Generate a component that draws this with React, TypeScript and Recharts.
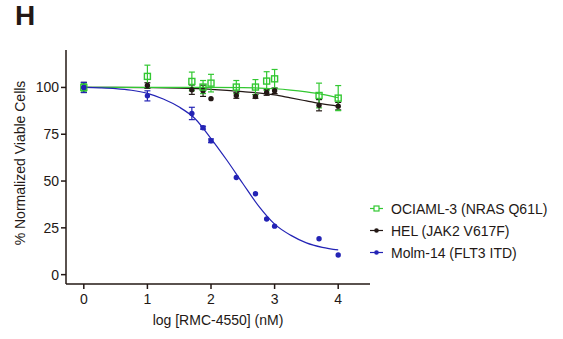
import React from 'react';
import { ComposedChart, Line, Scatter, XAxis, YAxis, ErrorBar } from 'recharts';

const GREEN = '#33c832';
const BLACK = '#231815';
const BLUE = '#2323b5';
const TEXT = '#231815';
const FONT = '"Liberation Sans", Arial, sans-serif';

// log concentrations (nM)
const logDose = [0, 1, 1.699, 1.875, 2, 2.398, 2.699, 2.875, 3, 3.699, 4];

// measured points
const ociY = [100, 105.9, 103.2, 100.2, 102.3, 100.2, 100.2, 103.4, 104.6, 95.7, 94.3];
const ociErr = [2, 6, 5, 3.5, 4.7, 3.5, 4, 5, 5, 6.6, 6.7];
const helY = [100, 101, 98.8, 98.2, 94, 95.7, 95.2, 97.3, 98.2, 90.5, 90];
const helErr = [2.7, 1.5, 2.5, 3, 0, 1.5, 1, 1.5, 1.5, 3, 2];
const molmY = [100, 95.5, 86.1, 78.5, 71.5, 51.9, 43.2, 29.7, 25.9, 19.2, 10.5];
const molmErr = [2.7, 2.7, 3.3, 0.8, 1, 0, 0, 0, 0, 0, 0];

// fitted curves
const ociCurveX = [0, 0.5, 1, 1.5, 2, 2.5, 3, 3.25, 3.5, 3.75, 4];
const ociCurveY = [100, 100, 100, 100, 100, 99.9, 99.3, 98.6, 97.6, 96.3, 94.5];
const helCurveX = [0, 0.5, 1, 1.5, 2, 2.5, 3, 3.25, 3.5, 3.75, 4];
const helCurveY = [100, 100, 99.9, 99.6, 99, 97.8, 96, 94.4, 92.8, 91.2, 90];
const molmCurveX = [0, 0.25, 0.5, 0.75, 1, 1.25, 1.5, 1.75, 2, 2.25, 2.5, 2.75, 3, 3.25, 3.5, 3.75, 4];
const molmCurveY = [100, 99.8, 99.4, 98.5, 96.8, 93.8, 89.5, 83.3, 72.7, 61.1, 48.7, 36.6, 27, 21.1, 17, 14.6, 13.2];

const xTicks = [0, 1, 2, 3, 4];
const yTicks = [0, 25, 50, 75, 100];

const seriesNames = ['OCIAML-3 (NRAS Q61L)', 'HEL (JAK2 V617F)', 'Molm-14 (FLT3 ITD)'];

const pts = (ys: number[], errs: number[]) => logDose.map((x, i) => ({ x, y: ys[i], err: errs[i] }));
const curve = (xs: number[], ys: number[]) => xs.map((x, i) => ({ x, y: ys[i] }));

const ociPts = pts(ociY, ociErr);
const helPts = pts(helY, helErr);
const molmPts = pts(molmY, molmErr);

const Square = (props: any) => {
  const { cx, cy } = props;
  if (cx == null || cy == null) return null;
  return <rect x={cx - 3} y={cy - 3} width={6} height={6} fill="none" stroke={GREEN} strokeWidth={1.4} />;
};
const Dot = (color: string) => (props: any) => {
  const { cx, cy } = props;
  if (cx == null || cy == null) return null;
  return <circle cx={cx} cy={cy} r={2.7} fill={color} stroke="none" />;
};

export default function App() {
  const tickStyle = { fontSize: 14, fill: TEXT, fontFamily: FONT };
  const legendRows = [
    { name: seriesNames[0], color: GREEN, kind: 'square' },
    { name: seriesNames[1], color: BLACK, kind: 'dot' },
    { name: seriesNames[2], color: BLUE, kind: 'dot' },
  ];
  return (
    <div style={{ position: 'absolute', left: 0, top: 0, width: 563, height: 339, background: '#fff', fontFamily: FONT }}>
      <ComposedChart width={563} height={339} margin={{ top: 50, right: 193, bottom: 25, left: 0 }}>
        <XAxis
          type="number"
          dataKey="x"
          domain={[-0.28, 4.5]}
          allowDataOverflow
          ticks={xTicks}
          tickSize={5}
          tickMargin={5}
          height={30}
          stroke={BLACK}
          strokeWidth={1.5}
          tick={tickStyle}
          tickLine={{ stroke: BLACK, strokeWidth: 1.5 }}
        />
        <YAxis
          type="number"
          dataKey="y"
          domain={[-5, 120]}
          allowDataOverflow
          ticks={yTicks}
          tickSize={5}
          tickMargin={2}
          width={66}
          stroke={BLACK}
          strokeWidth={1.5}
          tick={tickStyle}
          tickLine={{ stroke: BLACK, strokeWidth: 1.5 }}
        />
        <Line data={curve(helCurveX, helCurveY)} dataKey="y" type="monotone" stroke={BLACK} strokeWidth={1.2} dot={false} isAnimationActive={false} />
        <Line data={curve(ociCurveX, ociCurveY)} dataKey="y" type="monotone" stroke={GREEN} strokeWidth={1.2} dot={false} isAnimationActive={false} />
        <Line data={curve(molmCurveX, molmCurveY)} dataKey="y" type="monotone" stroke={BLUE} strokeWidth={1.2} dot={false} isAnimationActive={false} />
        <Scatter data={helPts} shape={Dot(BLACK)} isAnimationActive={false}>
          <ErrorBar dataKey="err" direction="y" width={3} stroke={BLACK} strokeWidth={1.2} />
        </Scatter>
        <Scatter data={ociPts} shape={Square} isAnimationActive={false}>
          <ErrorBar dataKey="err" direction="y" width={3} stroke={GREEN} strokeWidth={1.2} />
        </Scatter>
        <Scatter data={molmPts} shape={Dot(BLUE)} isAnimationActive={false}>
          <ErrorBar dataKey="err" direction="y" width={3} stroke={BLUE} strokeWidth={1.2} />
        </Scatter>
      </ComposedChart>
      <svg width={563} height={339} style={{ position: 'absolute', left: 0, top: 0, pointerEvents: 'none' }}>
        <text x={15} y={25} fontSize={28} fontWeight="bold" fill={TEXT} fontFamily={FONT}>H</text>
        <text transform="translate(25,163) rotate(-90)" textAnchor="middle" fontSize={14} fill={TEXT} fontFamily={FONT}>
          % Normalized Viable Cells
        </text>
        <text x={218} y={325} textAnchor="middle" fontSize={14} fill={TEXT} fontFamily={FONT}>log [RMC-4550] (nM)</text>
        {legendRows.map((r, i) => {
          const cy = 208.5 + i * 22;
          return (
            <g key={r.name}>
              <line x1={370} x2={383} y1={cy} y2={cy} stroke={r.color} strokeWidth={1.2} />
              {r.kind === 'square' ? (
                <rect x={374} y={cy - 2.5} width={5} height={5} fill="#fff" stroke={r.color} strokeWidth={1.2} />
              ) : (
                <circle cx={376.5} cy={cy} r={2.3} fill={r.color} />
              )}
              <text x={391} y={cy + 5} fontSize={14} fill={TEXT} fontFamily={FONT}>{r.name}</text>
            </g>
          );
        })}
      </svg>
    </div>
  );
}
